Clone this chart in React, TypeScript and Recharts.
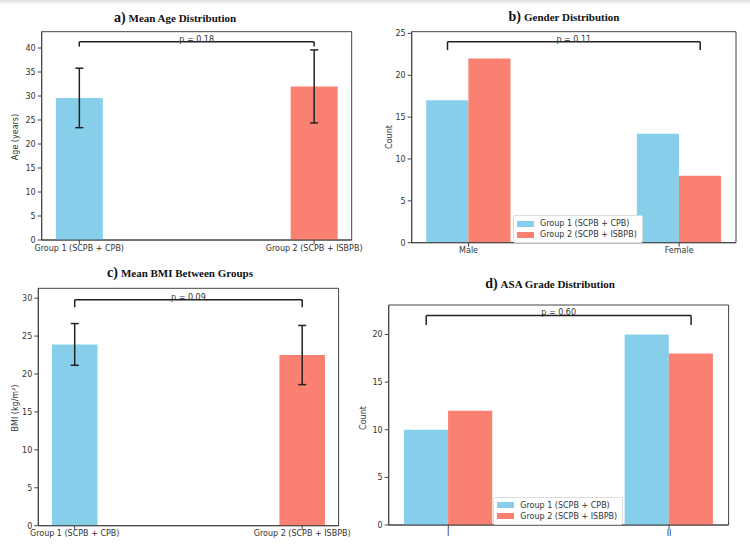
import React from 'react';
import {
  BarChart, Bar, Cell, XAxis, YAxis, ErrorBar, ReferenceLine, ReferenceArea, Legend,
} from 'recharts';

const SKY = '#87CEEB';
const SALMON = '#FA8072';
const INK = '#333';

// shared group names
const groupNames = ['Group 1 (SCPB + CPB)', 'Group 2 (SCPB + ISBPB)'];

// a) age
const ageMeans = [29.6, 32.0];
const ageSd = [6.2, 7.6];
const ageTicks = [0, 5, 10, 15, 20, 25, 30, 35, 40];

// b) gender
const genderCats = ['Male', 'Female'];
const genderG1 = [17, 13];
const genderG2 = [22, 8];
const genderTicks = [0, 5, 10, 15, 20, 25];

// c) BMI
const bmiMeans = [23.9, 22.5];
const bmiSd = [2.75, 3.9];
const bmiTicks = [0, 5, 10, 15, 20, 25, 30];

// d) ASA grade
const asaCats = ['I', 'II'];
const asaG1 = [10, 20];
const asaG2 = [12, 18];
const asaTicks = [0, 5, 10, 15, 20];

// significance brackets: label, bar height, leg drop
const pLabels = ['p = 0.18', 'p = 0.11', 'p = 0.09', 'p = 0.60'];
const bracketY = [41.3, 24, 29.8, 22];
const bracketDrop = [1, 1, 1, 1];
const yMaxes = [43.4, 25.2, 31.3, 23.1];

const tickStyle = { fontSize: 8, fill: INK, fontFamily: 'DejaVu Sans' };
const axisStroke = { stroke: '#444', strokeWidth: 1 };

type Box = { left: number; top: number; width: number; height: number };
type Margin = { top: number; right: number; bottom: number; left: number };

const Y_AXIS_W = 10;
const X_AXIS_H = 20;

function Bracket({ x0, x1, y, drop, label }: { x0: number; x1: number; y: number; drop: number; label: string }) {
  const seg = { stroke: '#222', strokeWidth: 1.5, ifOverflow: 'visible' as const };
  return (
    <>
      <ReferenceLine {...seg} segment={[{ x: x0, y: y - drop }, { x: x0, y }]} />
      <ReferenceLine {...seg} segment={[{ x: x1, y: y - drop }, { x: x1, y }]} />
      <ReferenceLine
        {...seg}
        segment={[{ x: x0, y }, { x: x1, y }]}
        label={{ value: label, position: 'top', offset: 0, fontSize: 8, fill: INK, fontFamily: 'DejaVu Sans' }}
      />
    </>
  );
}

function MeanPanel({ box, margin, means, sds, ticks, idx }: {
  box: Box; margin: Margin; means: number[]; sds: number[]; ticks: number[]; idx: number;
}) {
  const xMin = -0.16;
  const xMax = 1.16;
  const plotW = box.width - margin.left - margin.right - Y_AXIS_W;
  const barSize = (0.2 * plotW) / (xMax - xMin);
  const rows = means.map((m, i) => ({ x: i, mean: m, sd: sds[i] }));
  const yMax = yMaxes[idx];
  return (
    <div style={{ position: 'absolute', left: box.left, top: box.top }}>
      <BarChart width={box.width} height={box.height} data={rows} margin={margin}>
        <XAxis
          type="number" dataKey="x" domain={[xMin, xMax]} ticks={[0, 1]} interval={0}
          tickFormatter={(v: number) => groupNames[v]} allowDataOverflow
          height={X_AXIS_H} tickSize={4} tickMargin={1} tick={tickStyle}
          axisLine={axisStroke} tickLine={axisStroke}
        />
        <YAxis
          type="number" domain={[0, yMax]} ticks={ticks} interval={0} allowDataOverflow
          width={Y_AXIS_W} tickSize={4} tickMargin={2} tick={tickStyle}
          axisLine={axisStroke} tickLine={axisStroke}
        />
        <Bar dataKey="mean" barSize={barSize} isAnimationActive={false}>
          {rows.map((r, i) => <Cell key={r.x} fill={i === 0 ? SKY : SALMON} />)}
          <ErrorBar dataKey="sd" width={4} stroke="#222" strokeWidth={1.5} direction="y" />
        </Bar>
        <Bracket x0={0} x1={1} y={bracketY[idx]} drop={bracketDrop[idx]} label={pLabels[idx]} />
        <ReferenceArea x1={xMin} x2={xMax} y1={0} y2={yMax} fill="none" stroke="#444" strokeWidth={1} ifOverflow="visible" />
      </BarChart>
    </div>
  );
}

function CountLegend() {
  return (
    <div style={{
      background: '#fff', border: '1px solid #dcdcdc', borderRadius: 2, padding: '2px 5px 2px 3px',
      fontFamily: 'DejaVu Sans', fontSize: 8, color: INK, lineHeight: '11px',
    }}>
      {groupNames.map((n, i) => (
        <div key={n} style={{ display: 'flex', alignItems: 'center', height: 11, whiteSpace: 'nowrap' }}>
          <span style={{ display: 'inline-block', width: 17, height: 6, background: i === 0 ? SKY : SALMON, marginRight: 6 }} />
          {n}
        </div>
      ))}
    </div>
  );
}

function CountPanel({ box, margin, cats, g1, g2, ticks, idx, legendAt }: {
  box: Box; margin: Margin; cats: string[]; g1: number[]; g2: number[]; ticks: number[]; idx: number;
  legendAt: { left: number; top: number };
}) {
  const xMin = -0.27;
  const xMax = 1.27;
  const plotW = box.width - margin.left - margin.right - Y_AXIS_W;
  const barSize = (0.2 * plotW) / (xMax - xMin);
  const rows = cats.map((c, i) => ({ x: i, g1: g1[i], g2: g2[i] }));
  const yMax = yMaxes[idx];
  return (
    <div style={{ position: 'absolute', left: box.left, top: box.top }}>
      <BarChart width={box.width} height={box.height} data={rows} margin={margin} barGap={0} barCategoryGap={0}>
        <XAxis
          type="number" dataKey="x" domain={[xMin, xMax]} ticks={[0, 1]} interval={0}
          tickFormatter={(v: number) => cats[v]} allowDataOverflow
          height={X_AXIS_H} tickSize={4} tickMargin={1} tick={tickStyle}
          axisLine={axisStroke} tickLine={axisStroke}
        />
        <YAxis
          type="number" domain={[0, yMax]} ticks={ticks} interval={0} allowDataOverflow
          width={Y_AXIS_W} tickSize={4} tickMargin={2} tick={tickStyle}
          axisLine={axisStroke} tickLine={axisStroke}
        />
        <Bar dataKey="g1" name={groupNames[0]} fill={SKY} barSize={barSize} isAnimationActive={false} />
        <Bar dataKey="g2" name={groupNames[1]} fill={SALMON} barSize={barSize} isAnimationActive={false} />
        <Bracket x0={-0.1} x1={1.1} y={bracketY[idx]} drop={bracketDrop[idx]} label={pLabels[idx]} />
        <ReferenceArea x1={xMin} x2={xMax} y1={0} y2={yMax} fill="none" stroke="#444" strokeWidth={1} ifOverflow="visible" />
        <Legend
          layout="vertical" align="center" verticalAlign="middle"
          wrapperStyle={{ left: legendAt.left, top: legendAt.top, width: 'auto' }}
          content={() => <CountLegend />}
        />
      </BarChart>
    </div>
  );
}

function Title({ cx, cy, tag, text }: { cx: number; cy: number; tag: string; text: string }) {
  return (
    <div style={{
      position: 'absolute', left: cx, top: cy, transform: 'translate(-50%, -50%)',
      fontFamily: 'Liberation Serif', fontWeight: 'bold', color: '#111', whiteSpace: 'nowrap',
    }}>
      <span style={{ fontSize: 14 }}>{tag}</span>
      <span style={{ fontSize: 11, marginLeft: 3 }}>{text}</span>
    </div>
  );
}

function YLabel({ cx, cy, text }: { cx: number; cy: number; text: string }) {
  return (
    <div style={{
      position: 'absolute', left: cx, top: cy, transform: 'translate(-50%, -50%) rotate(-90deg)',
      fontFamily: 'DejaVu Sans', fontSize: 8, color: INK, whiteSpace: 'nowrap',
    }}>
      {text}
    </div>
  );
}

export default function App() {
  return (
    <div style={{ position: 'absolute', left: 0, top: 0, width: 750, height: 555, background: '#fff', overflow: 'hidden' }}>
      <div style={{ position: 'absolute', left: 0, top: 0, width: 750, height: 5, background: 'linear-gradient(#dedede, #fff)' }} />

      <MeanPanel
        box={{ left: 0, top: 0, width: 375, height: 265 }}
        margin={{ top: 31.7, right: 23.3, bottom: 5, left: 31.7 }}
        means={ageMeans} sds={ageSd} ticks={ageTicks} idx={0}
      />
      <CountPanel
        box={{ left: 375, top: 0, width: 375, height: 265 }}
        margin={{ top: 31.7, right: 14, bottom: 2.3, left: 26.7 }}
        cats={genderCats} g1={genderG1} g2={genderG2} ticks={genderTicks} idx={1}
        legendAt={{ left: 138, top: 215 }}
      />
      <MeanPanel
        box={{ left: 0, top: 265, width: 360, height: 290 }}
        margin={{ top: 23.3, right: 21.4, bottom: 9.3, left: 28.3 }}
        means={bmiMeans} sds={bmiSd} ticks={bmiTicks} idx={2}
      />
      <CountPanel
        box={{ left: 360, top: 265, width: 390, height: 290 }}
        margin={{ top: 40, right: 21.4, bottom: 10, left: 18.7 }}
        cats={asaCats} g1={asaG1} g2={asaG2} ticks={asaTicks} idx={3}
        legendAt={{ left: 133.3, top: 231.7 }}
      />

      <Title cx={175} cy={17} tag="a)" text="Mean Age Distribution" />
      <Title cx={564} cy={16} tag="b)" text="Gender Distribution" />
      <Title cx={180} cy={272} tag="c)" text="Mean BMI Between Groups" />
      <Title cx={550} cy={283} tag="d)" text="ASA Grade Distribution" />

      <YLabel cx={15} cy={137} text="Age (years)" />
      <YLabel cx={389} cy={137} text="Count" />
      <YLabel cx={15} cy={408} text="BMI (kg/m²)" />
      <YLabel cx={363} cy={418} text="Count" />
    </div>
  );
}
